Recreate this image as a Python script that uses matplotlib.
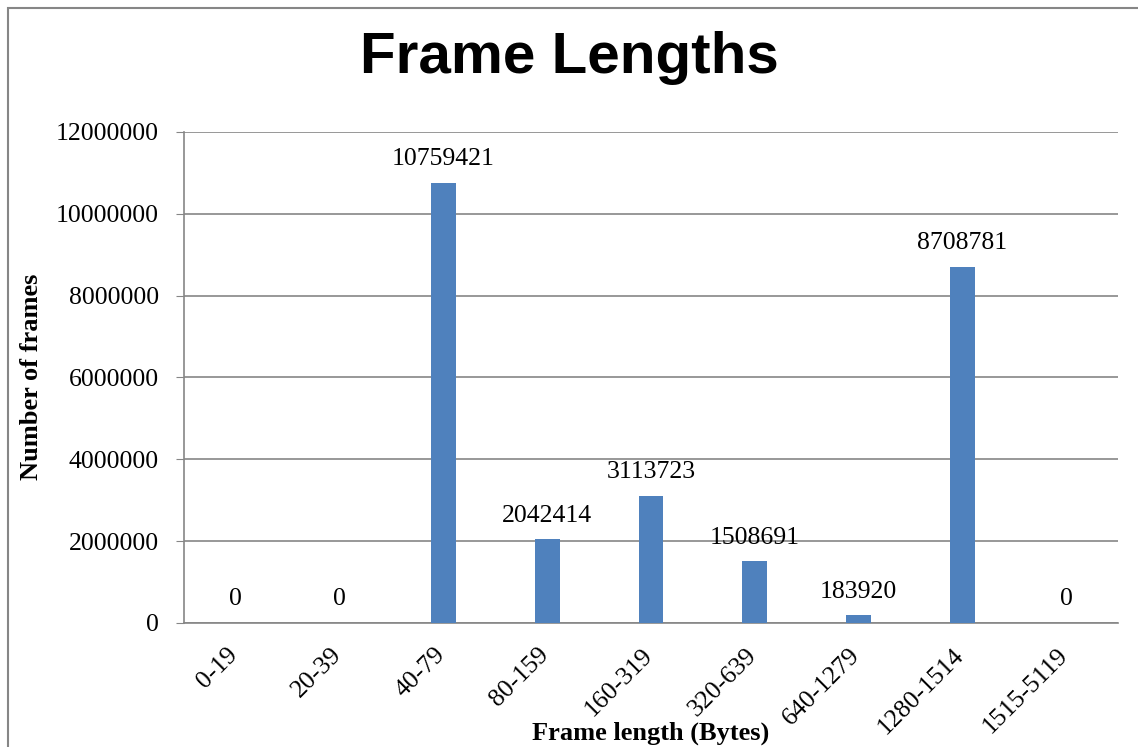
import matplotlib.pyplot as plt
from matplotlib.patches import Rectangle
from matplotlib.transforms import ScaledTranslation

categories = ["0-19", "20-39", "40-79", "80-159", "160-319", "320-639",
              "640-1279", "1280-1514", "1515-5119"]
frames = [0, 0, 10759421, 2042414, 3113723, 1508691, 183920, 8708781, 0]
y_ticks = [0, 2000000, 4000000, 6000000, 8000000, 10000000, 12000000]

serif = ["Liberation Serif", "DejaVu Serif"]
grid_col = "#868686"

fig = plt.figure(figsize=(11.38, 7.47), dpi=100)
ax = fig.add_axes([0.1617, 0.166, 0.8207, 0.6573])

x = list(range(len(categories)))
ax.bar(x, frames, width=0.24, color="#4F81BD", zorder=3)

for xi, v in zip(x, frames):
    ax.annotate(str(v), (xi, v), xytext=(0, 9), textcoords="offset points",
                ha="center", va="bottom", fontsize=18.5, family=serif)

ax.set_xlim(-0.5, len(categories) - 0.5)
ax.set_ylim(0, 12000000)
ax.set_yticks(y_ticks)
ax.set_yticklabels([str(t) for t in y_ticks], fontsize=18.5, family=serif)
ax.set_xticks(x)
ax.set_xticklabels(categories, rotation=45, ha="right", fontsize=18.5, family=serif)
ax.tick_params(axis="x", length=0, pad=15)
ax.tick_params(axis="y", length=6, color=grid_col, pad=12)

# nudge rotated labels so their ends sit just right of the category centre
shift = ScaledTranslation(6 / 100, 0, fig.dpi_scale_trans)
for lab in ax.get_xticklabels():
    lab.set_transform(lab.get_transform() + shift)

ax.grid(axis="y", color=grid_col, linewidth=1.2, zorder=0)
for s in ["top", "right"]:
    ax.spines[s].set_visible(False)
for s in ["left", "bottom"]:
    ax.spines[s].set_color(grid_col)
    ax.spines[s].set_linewidth(1.2)

fig.text(0.5, 0.922, "Frame Lengths", ha="center", va="center",
         fontsize=42, fontweight="bold", family=["Liberation Sans", "DejaVu Sans"])
fig.text(0.028, 0.495, "Number of frames", rotation=90, ha="center", va="center",
         fontsize=19, fontweight="bold", family=serif)
fig.text(0.572, 0.019, "Frame length (Bytes)", ha="center", va="center",
         fontsize=19, fontweight="bold", family=serif)

# outer chart border
fig.patches.append(Rectangle((8 / 1138, -0.05), 1.2, (739 / 747) + 0.05,
                             transform=fig.transFigure, fill=False,
                             edgecolor=grid_col, linewidth=1.5))

fig.savefig("out.png", dpi=100)
